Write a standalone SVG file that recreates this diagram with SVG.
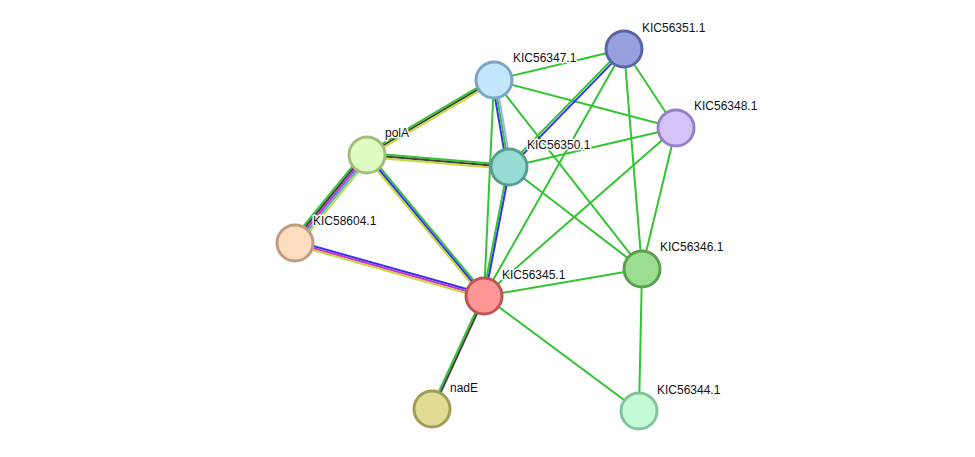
<svg xmlns="http://www.w3.org/2000/svg" width="975" height="457" viewBox="0 0 975 457">
<style>
line{stroke-width:2;fill:none}
.g{stroke:#33c433}.k{stroke:#404040}.y{stroke:#c6d83c}.b{stroke:#3232f0}.m{stroke:#d030d0}.c{stroke:#33b5e5}.l{stroke:#a8a8ff}
circle{stroke-width:3}
text{font-family:"Liberation Sans",Arial,sans-serif;font-size:12px;fill:#111;stroke:#fff;stroke-width:3;paint-order:stroke;stroke-linejoin:round}
</style>
<rect width="975" height="457" fill="#fff"/>
<g id="connectors">
<line class="g" x1="365.98" y1="153.28" x2="492.98" y2="78.28"/>
<line class="k" x1="367" y1="155" x2="494" y2="80"/>
<line class="y" x1="368.02" y1="156.72" x2="495.02" y2="81.72"/>
<line class="g" x1="367.17" y1="153" x2="509.17" y2="165"/>
<line class="k" x1="367" y1="155" x2="509" y2="167"/>
<line class="y" x1="366.83" y1="157" x2="508.83" y2="169"/>
<line class="g" x1="363.9" y1="152.47" x2="291.9" y2="240.47"/>
<line class="k" x1="365.45" y1="153.73" x2="293.45" y2="241.73"/>
<line class="m" x1="367" y1="155" x2="295" y2="243"/>
<line class="c" x1="368.55" y1="156.27" x2="296.55" y2="244.27"/>
<line class="y" x1="370.1" y1="157.53" x2="298.1" y2="245.53"/>
<line class="g" x1="368.54" y1="153.72" x2="485.54" y2="294.72"/>
<line class="b" x1="367" y1="155" x2="484" y2="296"/>
<line class="y" x1="365.46" y1="156.28" x2="482.46" y2="297.28"/>
<line class="b" x1="295.54" y1="241.07" x2="484.54" y2="294.07"/>
<line class="m" x1="295" y1="243" x2="484" y2="296"/>
<line class="y" x1="294.46" y1="244.93" x2="483.46" y2="297.93"/>
<line class="b" x1="492.03" y1="80.34" x2="507.03" y2="167.34"/>
<line class="g" x1="494" y1="80" x2="509" y2="167"/>
<line class="l" x1="495.97" y1="79.66" x2="510.97" y2="166.66"/>
<line class="g" x1="494" y1="80" x2="484" y2="296"/>
<line class="g" x1="494" y1="80" x2="624" y2="49"/>
<line class="g" x1="494" y1="80" x2="676" y2="128"/>
<line class="g" x1="494" y1="80" x2="642" y2="269"/>
<line class="g" x1="623.14" y1="48.16" x2="508.14" y2="166.16"/>
<line class="b" x1="624.86" y1="49.84" x2="509.86" y2="167.84"/>
<line class="g" x1="624" y1="49" x2="484" y2="296"/>
<line class="g" x1="624" y1="49" x2="676" y2="128"/>
<line class="g" x1="624" y1="49" x2="642" y2="269"/>
<line class="g" x1="509" y1="167" x2="676" y2="128"/>
<line class="g" x1="509" y1="167" x2="642" y2="269"/>
<line class="g" x1="508" y1="166.8" x2="483" y2="295.8"/>
<line class="b" x1="510" y1="167.2" x2="485" y2="296.2"/>
<line class="g" x1="676" y1="128" x2="484" y2="296"/>
<line class="g" x1="676" y1="128" x2="642" y2="269"/>
<line class="g" x1="484" y1="296" x2="642" y2="269"/>
<line class="g" x1="484" y1="296" x2="639" y2="411"/>
<line class="g" x1="483.1" y1="295.58" x2="431.1" y2="408.58"/>
<line class="k" x1="484.9" y1="296.42" x2="432.9" y2="409.42"/>
<line class="g" x1="642" y1="269" x2="639" y2="411"/>
</g>
<g id="KIC56351.1"><circle cx="624" cy="49" r="18" fill="#97a1e0" stroke="#5a65a3"/><text x="642" y="32">KIC56351.1</text></g>
<g id="KIC56347.1"><circle cx="494" cy="80" r="18" fill="#c0e7fb" stroke="#7aa6c2"/><text x="513" y="62">KIC56347.1</text></g>
<g id="KIC56348.1"><circle cx="676" cy="128" r="18" fill="#d4c2f9" stroke="#9681c7"/><text x="694" y="110">KIC56348.1</text></g>
<g id="polA"><circle cx="367" cy="155" r="18" fill="#e0fcc2" stroke="#a3bd7f"/><text x="385" y="137">polA</text></g>
<g id="KIC56350.1"><circle cx="509" cy="167" r="18" fill="#97dcd4" stroke="#599c93"/><text x="527" y="149">KIC56350.1</text></g>
<g id="KIC58604.1"><circle cx="295" cy="243" r="18" fill="#fddcbf" stroke="#bf9d7f"/><text x="313" y="225">KIC58604.1</text></g>
<g id="KIC56346.1"><circle cx="642" cy="269" r="18" fill="#9ddd8f" stroke="#5d9e51"/><text x="660" y="251">KIC56346.1</text></g>
<g id="KIC56345.1"><circle cx="484" cy="296" r="18" fill="#fe9696" stroke="#bd5656"/><text x="502" y="279">KIC56345.1</text></g>
<g id="nadE"><circle cx="432" cy="409" r="18" fill="#e0dc96" stroke="#a19d58"/><text x="450" y="392">nadE</text></g>
<g id="KIC56344.1"><circle cx="639" cy="411" r="18" fill="#c2fbd6" stroke="#82c49c"/><text x="657" y="394">KIC56344.1</text></g>
</svg>
